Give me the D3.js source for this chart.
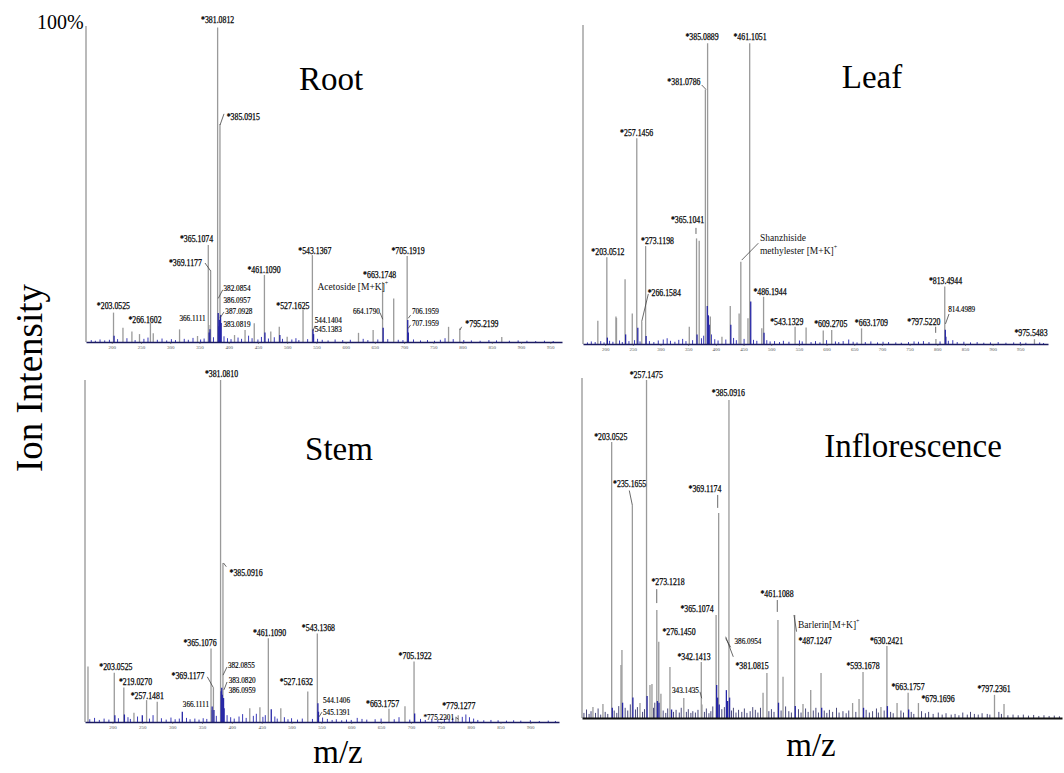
<!DOCTYPE html>
<html><head><meta charset="utf-8">
<script src="https://cdn.jsdelivr.net/npm/d3@7/dist/d3.min.js"></script>
<style>body{margin:0;background:#fff} svg{display:block}</style>
</head><body>
<svg id="c" width="1064" height="773"></svg>
<script>
// ---------------- DATA ----------------
const panelNames = ["Root", "Leaf", "Stem", "Inflorescence"];
const tickValues = [200,250,300,350,400,450,500,550,600,650,700,750,800,850,900,950];
const stemTickValues = [200,250,300,350,400,450,500,550,600,650,700,750,800,850,900];

// [m/z, relative intensity %]
const rootPeaks = [[381.08,99.5],[385.09,69.0],[365.11,30.7],[369.12,22.6],[461.11,21.2],[543.14,27.5],[705.19,27.2],[663.17,19.0],[527.16,10.1],[203.05,9.3],[266.16,6.0],[366.11,5.4],[682.2,13.8],[776.0,4.8],[795.22,4.3],[647.0,3.8],[622.0,2.9],[867.0,1.6],[219.2,4.5],[234.5,3.3],[247.5,2.5],[271.0,2.8],[316.0,4.0],[346.7,1.9],[443.7,5.9],[428.0,3.8],[486.5,4.8],[472.0,3.3],[500.0,1.7],[410.0,2.2]];
const rootMinor = [[382.09,9.2],[383.08,5.0],[384.1,7.0],[386.10,8.5],[387.09,6.0],[366.6,3.0],[368.0,4.0],[462.0,3.0],[544.14,4.0],[545.14,2.5],[664.18,4.5],[706.20,7.0],[707.20,3.0],[204.0,2.0],[487.5,2.2]];
const rootNoise = [[165,0.6],[172,0.4],[180,0.8],[188,0.5],[196,0.7],[210,0.9],[226,1.2],[240,0.6],[255,1.0],[262,1.4],[278,0.7],[286,1.1],[294,0.5],[302,0.9],[309,0.6],[324,1.0],[331,0.7],[339,1.3],[352,0.8],[358,1.1],[374,1.5],[392,1.8],[398,1.2],[404,0.9],[416,1.4],[422,1.0],[434,2.0],[440,1.2],[450,0.8],[456,1.6],[468,1.1],[478,1.5],[492,1.0],[508,0.8],[515,1.2],[520,0.6],[535,0.9],[552,1.0],[560,0.7],[570,0.5],[582,0.8],[595,0.6],[608,0.7],[630,1.0],[638,0.6],[655,0.8],[672,0.9],[690,0.7],[698,0.6],[716,0.8],[728,0.5],[740,0.6],[752,0.4],[762,0.7],[770,1.2],[784,0.9],[802,0.6],[815,0.5],[830,0.4],[845,0.6],[858,0.5],[880,0.4],[895,0.5],[910,0.4],[925,0.3],[940,0.4],[955,0.3]];
// [text, label m/z, label intensity, kind]
const rootLabels = [["*381.0812",381.1,102.0,"L"],["*385.0915",425,71.5,"L"],["*365.1074",345,32.6,"L"],["*369.1177",326,25.3,"L"],["*461.1090",460.4,23.1,"L"],["*543.1367",547.3,29.1,"L"],["*203.0525",202.9,11.4,"L"],["*266.1602",256.9,7.2,"L"],["366.1111",338.1,7.5,"S"],["382.0854",414.2,16.8,"S"],["386.0957",414.2,13.0,"S"],["387.0928",417.4,9.8,"S"],["383.0819",414.2,5.6,"S"],["*527.1625",509.8,11.4,"L"],["544.1404",570.3,6.8,"S"],["545.1383",570.3,4.0,"S"],["*705.1919",706.6,28.9,"L"],["*663.1748",658.2,21.4,"L"],["664.1790",635.5,9.6,"S"],["706.1959",736.4,9.8,"S"],["707.1959",736.4,5.9,"S"],["*795.2199",833.1,5.9,"L"]];
const rootNames = [["Acetoside [M+K]","+",551.9,17.4]];
const rootLeaders = [[392,72.2,385.3,68.7],[359.5,25.0,369.1,22.5],[389.8,16.5,382.2,13.8],[392,9.5,385.1,7.6],[547.6,5.1,544.2,3.5],[658.7,9.3,663.4,7.2],[711.1,8.5,707,7.5],[711.1,5.4,707,4.3],[798.4,4.8,795.5,3.8]];

const leafPeaks = [[385.09,94.3],[461.11,94.3],[381.08,79.8],[257.15,64.5],[365.10,33.1],[369.9,32.4],[273.12,30.7],[203.05,27.2],[445.1,25.8],[236.0,20.3],[486.19,14.8],[813.49,18.0],[186.8,7.3],[219.5,8.6],[220.5,8.2],[249.0,9.6],[266.16,7.0],[352.0,5.4],[426.0,11.9],[442.0,9.6],[458.0,8.1],[483.0,4.9],[543.13,5.4],[563.0,5.2],[594.0,4.2],[609.27,4.4],[663.17,4.9],[797.52,1.6],[975.55,1.5],[411.0,2.3],[390.0,8.6]];
const leafMinor = [[384.5,11.9],[386.5,9.0],[388.0,6.0],[463.0,13.3],[259.0,5.1],[814.5,4.5],[815.5,2.3],[427.0,6.0],[366.0,3.0],[204.0,2.0],[237.0,3.0],[487.0,3.5],[274.0,2.5]];
const leafNoise = [[168,0.5],[175,0.8],[182,0.6],[192,0.9],[198,0.5],[208,1.0],[214,0.7],[226,1.1],[231,0.6],[243,0.9],[253,1.2],[263,0.8],[280,0.9],[288,0.6],[296,1.1],[305,1.4],[312,1.8],[318,1.0],[326,0.7],[333,1.3],[340,1.6],[346,0.9],[358,1.2],[374,1.8],[378,2.6],[392,3.0],[398,1.5],[404,1.1],[418,1.4],[432,1.9],[437,1.2],[451,1.6],[468,1.3],[474,1.0],[492,1.2],[498,0.8],[506,0.9],[515,0.6],[522,1.0],[532,0.7],[551,1.1],[556,0.8],[572,0.6],[580,0.9],[588,0.5],[600,1.2],[616,0.8],[622,0.6],[630,0.9],[640,1.4],[648,0.7],[655,0.5],[670,0.6],[680,0.8],[692,0.5],[702,0.7],[712,0.6],[725,0.5],[735,0.4],[748,0.6],[758,0.8],[766,0.7],[775,0.9],[785,0.6],[805,0.8],[820,1.0],[828,1.2],[836,0.6],[848,0.7],[860,0.5],[872,0.6],[884,0.4],[896,0.5],[910,0.6],[924,0.4],[938,0.5],[950,0.6],[960,0.4],[985,0.5],[992,0.3]];
const leafLabels = [["*385.0889",375.0,96.3,"L"],["*461.1051",461.7,96.3,"L"],["*381.0786",342.3,82.4,"L"],["*257.1456",257.0,66.2,"L"],["*365.1041",348.8,38.9,"L"],["*273.1198",294.6,32.4,"L"],["*203.0512",205.0,28.9,"L"],["*266.1584",306.7,16.2,"L"],["*486.1944",497.8,16.4,"L"],["*543.1329",528.1,7.0,"L"],["*609.2705",607.5,6.3,"L"],["*663.1709",681.0,6.7,"L"],["*797.5220",775.8,7.0,"L"],["*813.4944",814.8,19.8,"L"],["814.4989",844.1,10.7,"S"],["*975.5483",969.3,3.5,"L"]];
const leafNames = [["Shanzhiside","",479.7,33.1],["methylester [M+K]","+",479.7,29.2]];
const leafLeaders = [[374.4,81.2,382.2,79.8],[364.1,36.4,364.1,34.5],[476.7,31.6,446.7,26.3],[278.0,15.7,266.0,7.0],[797.1,5.4,797.1,3.5],[821.2,9.4,814.8,6.3]];

const stemPeaks = [[381.08,100],[385.09,46.5],[365.11,21.5],[369.12,10.1],[461.11,24.5],[543.14,25.9],[705.19,17.7],[203.05,14.4],[219.03,10.1],[257.15,6.4],[527.16,8.9],[663.18,3.9],[779.13,2.0],[159.0,16.2],[236.0,2.7],[275.0,5.9],[430.0,4.0],[447.0,4.3],[482.0,4.0],[690.0,4.6],[775.23,1.5],[366.11,3.5]];
const stemMinor = [[250,2.0],[317,3.0],[382.09,9.0],[383.08,10.0],[384.0,8.0],[386.10,7.0],[387.0,4.0],[544.14,5.5],[545.14,3.0],[466.0,3.7],[367.0,4.5],[370.0,3.5],[204.0,2.0],[220.0,2.2],[706.2,2.5]];
const stemNoise = [[162,0.8],[170,1.2],[178,0.6],[186,1.0],[194,0.7],[210,1.1],[226,1.4],[230,0.9],[242,1.6],[262,1.0],[268,2.0],[282,1.1],[290,0.7],[298,1.3],[305,0.8],[312,1.0],[324,1.2],[330,0.8],[338,1.0],[345,0.7],[352,1.1],[358,0.9],[374,1.8],[392,2.0],[398,1.4],[404,1.0],[412,1.6],[418,2.3],[424,1.2],[436,1.8],[441,2.4],[452,1.5],[456,2.0],[472,1.6],[476,1.0],[488,1.4],[494,0.8],[500,1.1],[510,0.7],[518,1.0],[535,0.9],[552,1.3],[560,0.9],[568,0.6],[575,0.8],[584,0.5],[592,0.7],[600,0.6],[610,1.2],[618,0.9],[626,0.7],[640,0.8],[650,1.0],[672,0.8],[680,1.4],[698,0.7],[716,0.9],[724,0.6],[735,0.8],[745,0.6],[756,1.0],[764,0.8],[770,1.2],[786,1.5],[792,2.2],[798,1.4],[805,1.0],[812,0.6],[822,0.5],[834,0.6],[846,0.5],[860,0.4],[872,0.5],[884,0.4],[900,0.5],[915,0.3],[930,0.4],[942,0.3]];
const stemLabels = [["*381.0810",382.6,102.0,"L"],["*385.0916",423.8,43.7,"L"],["*365.1076",346.6,23.2,"L"],["*369.1177",326.5,13.7,"L"],["*203.0525",205.7,16.2,"L"],["*219.0270",238.6,11.8,"L"],["*257.1481",258.2,7.7,"L"],["382.0855",416.0,16.5,"S"],["383.0820",417.3,12.1,"S"],["386.0959",417.3,9.1,"S"],["366.1111",339.8,5.2,"S"],["*461.1090",463.0,26.1,"L"],["*527.1632",508.1,11.8,"L"],["*543.1368",545.0,27.6,"L"],["*705.1922",707.1,19.4,"L"],["544.1406",575.3,6.3,"S"],["545.1391",575.3,2.8,"S"],["*663.1757",652.5,5.3,"L"],["*779.1277",780.1,4.7,"L"],["*775.2301",746.5,1.2,"S"]];
const stemNames = [];
const stemLeaders = [[390.7,45.4,386,46.5],[358.9,13.2,368.8,10.1],[391.9,16.1,385.2,13.7],[391.9,11.7,386.8,9.4],[551,2.9,546,1.5],[775.5,1.3,779.8,0.8]];

const infloPeaks = [[257.15,99.4],[385.09,93.5],[203.05,81.2],[235.17,62.6],[369.12,60.3],[273.12,31.8],[365.11,30.3],[276.15,22.4],[342.14,16.5],[461.11,28.8],[487.12,30.3],[630.24,21.2],[593.17,13.5],[663.18,7.4],[679.17,4.4],[797.24,6.8],[219.0,20.0],[217.5,15.6],[293.5,15.0],[444.0,13.2],[469.0,12.1],[512.0,8.2],[528.0,13.2],[438.0,7.4],[812.0,4.1],[646.0,4.4],[315.0,5.9],[262.5,9.7],[265.6,10.0],[279.5,7.1],[247.0,4.4],[189.5,4.1],[174.0,3.2],[500.0,4.1],[577.0,4.4],[587.0,5.6],[621.0,3.2],[343.14,4.0]];
const infloMinor = [[381.08,8.2],[366.0,9.7],[367.5,6.0],[383.0,5.0],[386.10,6.0],[258.0,6.5],[236.0,6.0],[220.0,4.5],[204.0,3.0],[462.0,4.5],[488.0,3.5],[276.5,4.5],[631.0,3.5],[594.0,3.0],[664.0,2.5],[296.0,2.5],[274.0,5.0],[370.0,4.0],[529.0,3.0]];
const infloNoise = [[160,1.5],[164,2.5],[168,1.2],[171,2.0],[178,1.5],[182,2.8],[186,1.0],[193,1.8],[197,1.2],[207,2.2],[211,1.5],[214,3.5],[224,3.0],[228,2.2],[232,4.0],[240,2.5],[243,3.2],[251,1.8],[254,2.6],[268,3.0],[270,4.5],[283,2.2],[287,1.5],[290,2.8],[299,1.8],[303,2.4],[308,1.6],[311,3.0],[319,1.8],[322,2.6],[326,1.5],[329,2.0],[333,1.6],[337,2.4],[347,1.8],[350,2.8],[354,1.4],[357,2.0],[360,3.4],[374,2.6],[378,3.2],[389,2.2],[392,3.0],[396,1.6],[400,2.4],[405,1.8],[409,2.8],[413,1.5],[418,2.0],[422,3.2],[426,2.4],[430,1.6],[434,3.0],[447,2.0],[451,2.6],[455,1.8],[466,2.2],[473,3.4],[478,2.0],[482,1.6],[493,2.6],[497,1.6],[504,2.8],[508,1.8],[516,2.2],[520,3.0],[524,1.6],[533,2.2],[537,1.5],[541,2.4],[546,1.8],[552,3.0],[556,1.6],[562,2.0],[567,1.4],[571,2.2],[582,1.8],[598,2.4],[603,1.6],[608,2.0],[614,2.8],[617,1.6],[626,2.2],[636,1.8],[640,1.4],[652,2.2],[656,1.6],[668,1.8],[672,1.2],[684,2.0],[690,1.4],[695,1.8],[702,1.2],[710,1.6],[716,1.0],[722,1.4],[730,1.0],[736,1.2],[742,0.8],[748,1.6],[755,1.0],[760,1.8],[766,1.2],[772,1.0],[778,1.4],[786,1.2],[790,1.0],[804,1.8],[808,1.2],[818,0.8],[826,1.0],[834,0.8],[842,1.0],[850,0.7],[858,0.9],[866,0.6],[874,0.8],[882,0.6],[890,0.7],[898,0.5]];
const infloLabels = [["*257.1475",256.8,100.9,"L"],["*385.0916",384.1,95.7,"L"],["*203.0525",201.7,82.9,"L"],["*235.1655",231.0,69.0,"L"],["*369.1174",347.9,67.6,"L"],["*273.1218",290.5,40.1,"L"],["*365.1074",335.5,32.3,"L"],["*276.1450",307.5,25.4,"L"],["*342.1413",330.8,18.2,"L"],["343.1435",317.6,8.2,"S"],["386.0954",414.6,22.6,"S"],["*381.0815",420.9,15.3,"L"],["*461.1088",459.7,36.7,"L"],["*487.1247",518.6,22.7,"L"],["*630.2421",629.6,22.9,"L"],["*593.1678",593.1,15.3,"L"],["*663.1757",663.0,9.4,"L"],["*679.1696",709.5,5.8,"L"],["*797.2361",796.5,8.8,"L"]];
const infloNames = [["Barlerin[M+K]","+",492.2,27.4]];
const infloLeaders = [[230.4,66.9,235.1,62.6],[367.6,65.6,367.6,61.8],[273,37.9,273,33.8],[460.1,34.7,460.1,31.2],[486,30.3,490,25.4],[380,23.9,391.8,18.0],[380,23.4,387.8,20.8],[340.1,7.7,342.8,5.8]];

// ---------------- LAYOUT ----------------
const serif = "'Liberation Serif','Times New Roman',serif";
const svg = d3.select("#c");
const panels = [
  {name:panelNames[0], peaks:rootPeaks, minor:rootMinor, noise:rootNoise, labels:rootLabels, names:rootNames, leaders:rootLeaders, ticks:tickValues, x0:86, x1:562, dom:[156,970], base:342, top:26, tx:331, ty:90, nc:"#3a3ab8"},
  {name:panelNames[1], peaks:leafPeaks, minor:leafMinor, noise:leafNoise, labels:leafLabels, names:leafNames, leaders:leafLeaders, ticks:tickValues, x0:583, x1:1048, dom:[160,1000], base:344, top:25, tx:872, ty:88, nc:"#3a3ab8"},
  {name:panelNames[2], peaks:stemPeaks, minor:stemMinor, noise:stemNoise, labels:stemLabels, names:stemNames, leaders:stemLeaders, ticks:stemTickValues, x0:85, x1:559, dom:[154,948], base:722, top:380, tx:339, ty:460, nc:"#3a3ab8"},
  {name:panelNames[3], peaks:infloPeaks, minor:infloMinor, noise:infloNoise, labels:infloLabels, names:infloNames, leaders:infloLeaders, ticks:[], x0:582, x1:1062, dom:[157,902], base:718, top:378, tx:913, ty:457, nc:"#4a4a7a"}
];

panels.forEach(p => {
  const x = d3.scaleLinear().domain(p.dom).range([p.x0, p.x1]);
  const y = d3.scaleLinear().domain([0, 100]).range([p.base, p.top]);
  const g = svg.append("g");

  g.append("line").attr("x1", p.x0).attr("x2", p.x0).attr("y1", y(0)).attr("y2", y(100))
    .attr("stroke", "#8c8c8c").attr("stroke-width", 1.2);

  const stick = (sel, data, color, w) => sel.selectAll(null).data(data).join("line")
    .attr("x1", d => x(d[0])).attr("x2", d => x(d[0]))
    .attr("y1", y(0)).attr("y2", d => y(d[1]))
    .attr("stroke", color).attr("stroke-width", w);

  stick(g, p.noise, p.nc, 1);
  stick(g, p.peaks, "#9a9a9a", 1.3);
  stick(g, p.minor, "#2626a6", 1.3);

  const ax = d3.axisBottom(x).tickValues(p.ticks).tickSize(2).tickSizeOuter(0).tickPadding(1)
    .tickFormat(d3.format("d"));
  const axg = g.append("g").attr("transform", `translate(0,${p.base})`).call(ax);
  axg.select(".domain").attr("stroke", p.ticks.length ? "#1b1b60" : "#111").attr("stroke-width", p.ticks.length ? 1.6 : 2.2);
  axg.selectAll(".tick line").attr("stroke", "#444").attr("stroke-width", 0.6);
  axg.selectAll(".tick text").attr("font-size", 5).attr("fill", "#555").attr("font-family", serif);

  g.selectAll(null).data(p.leaders).join("line")
    .attr("x1", d => x(d[0])).attr("y1", d => y(d[1]))
    .attr("x2", d => x(d[2])).attr("y2", d => y(d[3]))
    .attr("stroke", "#444").attr("stroke-width", 0.8);

  g.selectAll(null).data(p.labels).join("text")
    .attr("x", d => x(d[1])).attr("y", d => y(d[2]))
    .attr("dominant-baseline", "central").attr("text-anchor", "middle")
    .attr("font-family", serif).attr("fill", "#000")
    .attr("stroke", "#000").attr("stroke-width", d => d[3] === "L" ? 0.25 : 0.15)
    .attr("font-size", d => d[3] === "L" ? 10 : 8)
    .text(d => d[0])
    .each(function(d) {
      const w = this.getComputedTextLength();
      d3.select(this).attr("textLength", w * (d[3] === "L" ? 0.78 : 0.9)).attr("lengthAdjust", "spacingAndGlyphs");
    });

  const nm = g.selectAll(null).data(p.names).join("text")
    .attr("x", d => x(d[2])).attr("y", d => y(d[3]))
    .attr("dominant-baseline", "central").attr("text-anchor", "start")
    .attr("font-family", serif).attr("fill", "#111").attr("font-size", 9.5);
  nm.append("tspan").text(d => d[0]);
  nm.append("tspan").attr("font-size", 6).attr("dy", -4).text(d => d[1]);

  g.append("text").attr("x", p.tx).attr("y", p.ty).attr("text-anchor", "middle")
    .attr("font-family", serif).attr("font-size", 33).attr("fill", "#000").text(p.name);
});

svg.append("text").attr("x", 37).attr("y", 29).attr("font-family", serif)
  .attr("font-size", 20).text("100%");
svg.append("text").attr("transform", "translate(42,378) rotate(-90)").attr("text-anchor", "middle")
  .attr("font-family", serif).attr("font-size", 37).text("Ion Intensity");
svg.append("text").attr("x", 338).attr("y", 763).attr("text-anchor", "middle")
  .attr("font-family", serif).attr("font-size", 33).text("m/z");
svg.append("text").attr("x", 811).attr("y", 756).attr("text-anchor", "middle")
  .attr("font-family", serif).attr("font-size", 33).text("m/z");
</script>
</body></html>
